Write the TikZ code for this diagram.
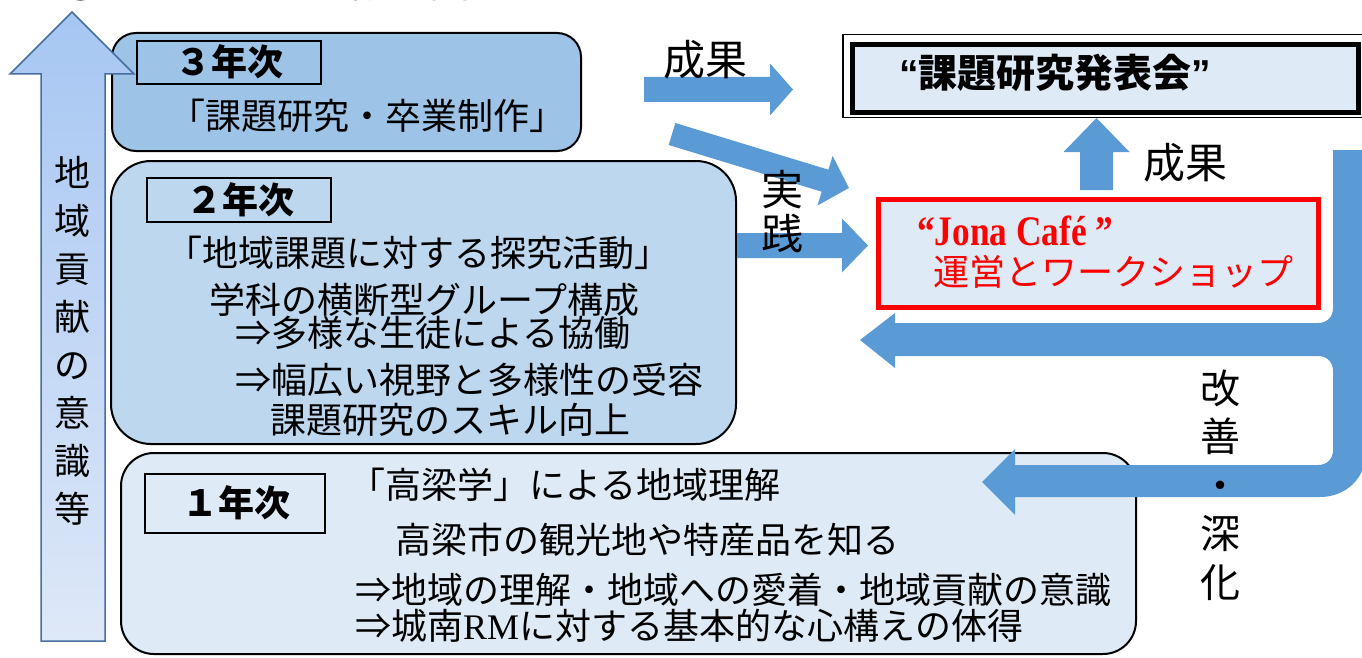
\documentclass[tikz,border=0pt]{standalone}
\usepackage{fontspec}
\setmainfont{Liberation Serif}
\newfontfamily\jp{Noto Sans CJK JP}
\newfontfamily\lsans{Liberation Sans}
\usetikzlibrary{calc}
\definecolor{cthree}{RGB}{157,195,230}
\definecolor{ctwo}{RGB}{189,215,238}
\definecolor{cone}{RGB}{222,235,247}
\definecolor{arr}{RGB}{91,155,213}
\definecolor{upTop}{RGB}{166,198,242}
\definecolor{upBot}{RGB}{222,232,248}
\definecolor{upEdge}{RGB}{70,110,160}
\definecolor{jred}{RGB}{255,0,0}
\newcommand{\blkarrow}[7]{%
  \begin{scope}[shift={(#1,#2)},rotate=#3]
    \fill[arr] (0,-#5) -- ({#4-#7},-#5) -- ({#4-#7},-#6) -- (#4,0) -- ({#4-#7},#6) -- ({#4-#7},#5) -- (0,#5) -- cycle;
  \end{scope}}
\tikzset{
  yearbox/.style={draw=black, line width=2pt, anchor=north west, inner sep=0pt},
  labelbox/.style={draw=black, line width=2pt, anchor=north west, inner sep=0pt},
  labeltxt/.style={inner sep=0pt, font={\jp\bfseries\fontsize{36}{36}\selectfont}},
  bodytxt/.style={anchor=west, inner sep=0pt, font={\jp\fontsize{36}{36}\selectfont}},
  bigtxt/.style={inner sep=0pt, font={\jp\fontsize{42}{44}\selectfont}, align=center},
}
\begin{document}
\begin{tikzpicture}[x=1pt,y=-1pt]
\useasboundingbox (0,0) rectangle (1362,658);
\clip (0,0) rectangle (1362,658);

% cut-off title
\node[anchor=base west, inner sep=0pt, font={\jp\fontsize{41}{41}\selectfont}] (title) at (60,-2) {③プロジェクト概念図};

% year boxes
\node[yearbox, fill=cthree, rounded corners=24pt, minimum width=469pt, minimum height=118pt] (y3) at (111,32) {};
\node[yearbox, fill=ctwo, rounded corners=40pt, minimum width=625pt, minimum height=283pt] (y2) at (110,160) {};
\node[yearbox, fill=cone, rounded corners=33pt, minimum width=1015pt, minimum height=201pt] (y1) at (120,452) {};

% label boxes
\node[labelbox, minimum width=184pt, minimum height=43pt] (l3) at (136,40) {};
\node[labelbox, minimum width=184pt, minimum height=44pt] (l2) at (146,177) {};
\node[labelbox, minimum width=180pt, minimum height=59pt] (l1) at (144,473) {};
\node[labeltxt] (l3t) at (229,62) {３年次};
\node[labeltxt] (l2t) at (240,200) {２年次};
\node[labeltxt] (l1t) at (236,503) {１年次};

% year 3 text
\node[bodytxt] (t3a) at (169,116) {「課題研究・卒業制作」};
% year 2 text
\node[bodytxt] (t2a) at (166,253) {「地域課題に対する探究活動」};
\node[bodytxt] (t2b) at (209,300) {学科の横断型グループ構成};
\node[bodytxt] (t2c) at (235,333) {⇒多様な生徒による協働};
\node[bodytxt] (t2d) at (235,380) {⇒幅広い視野と多様性の受容};
\node[bodytxt] (t2e) at (270,420) {課題研究のスキル向上};
% year 1 text
\node[bodytxt] (t1a) at (349,485) {「高梁学」による地域理解};
\node[bodytxt] (t1b) at (395,540) {高梁市の観光地や特産品を知る};
\node[bodytxt] (t1c) at (355,590) {⇒地域の理解・地域への愛着・地域貢献の意識};
\node[bodytxt] (t1d) at (355,626) {⇒城南{\rmfamily RM}に対する基本的な心構えの体得};

% left vertical arrow
\path[top color=upTop, bottom color=upBot, draw=upEdge, line width=1.5pt]
  (41,641) -- (41,74) -- (10,74) -- (72,12) -- (134,74) -- (105,74) -- (105,641) -- cycle;
\node[inner sep=0pt, align=center, font={\jp\fontsize{36}{48}\selectfont}] (lefttxt) at (72,341)
  {地\\域\\貢\\献\\の\\意\\識\\等};

% presentation box (double border)
\node[draw=black, line width=1.5pt, fill=white, anchor=north west, minimum width=524pt, minimum height=83pt, inner sep=0pt] (presout) at (842,34) {};
\node[draw=black, line width=5pt, fill=cone, anchor=north west, minimum width=506pt, minimum height=68pt, inner sep=0pt] (pres) at (850,42) {};
\node[inner sep=0pt, font={\jp\bfseries\fontsize{39}{39}\selectfont}] (prest) at (1055,73)
  {{\lsans\bfseries “}課題研究発表会{\lsans\bfseries ”}};

% Jona Cafe box
\node[draw=jred, line width=5pt, fill=cone, anchor=north west, minimum width=440pt, minimum height=108pt, inner sep=0pt] (jona) at (876,197) {};
\node[anchor=west, inner sep=0pt, text=jred, xscale=0.84, font={\rmfamily\bfseries\fontsize{42}{42}\selectfont}] (jonaa) at (917,231) {“Jona Café ”};
\node[anchor=west, inner sep=0pt, text=jred, font={\jp\fontsize{36}{36}\selectfont}] (jonab) at (933,272) {運営とワークショップ};

% block arrows
\blkarrow{644}{89.5}{0}{149}{12.5}{26}{23}
\blkarrow{672}{134}{-16.97}{185}{11.5}{26}{25}
\blkarrow{737}{245.5}{0}{131}{12.5}{27}{26}
\blkarrow{1096.5}{190}{90}{72}{16.5}{33}{34}

% big return arrow
\fill[arr] (1333,150) -- (1366,150) -- (1366,452) .. controls (1366,478) and (1346,497) .. (1320,497)
  -- (1015,497) -- (1015,515) -- (982,482) -- (1015,449) -- (1015,465) -- (1318,465)
  .. controls (1327,465) and (1333,459) .. (1333,450) -- (1333,371)
  .. controls (1333,362) and (1327,356) .. (1318,356) -- (895,356) -- (895,368) -- (860,340)
  -- (895,313) -- (895,323) -- (1318,323) .. controls (1327,323) and (1333,317) .. (1333,308) -- cycle;

% arrow labels
\node[bigtxt] (seika1) at (705,60) {成果};
\node[bigtxt, font={\jp\fontsize{42}{44}\selectfont}] (jissen) at (782,212) {実\\践};
\node[bigtxt] (seika2) at (1185,163) {成果};
\node[bigtxt, font={\jp\fontsize{40}{48.5}\selectfont}] (kaizen) at (1220,485) {改\\善\\・\\深\\化};
\end{tikzpicture}
\end{document}
